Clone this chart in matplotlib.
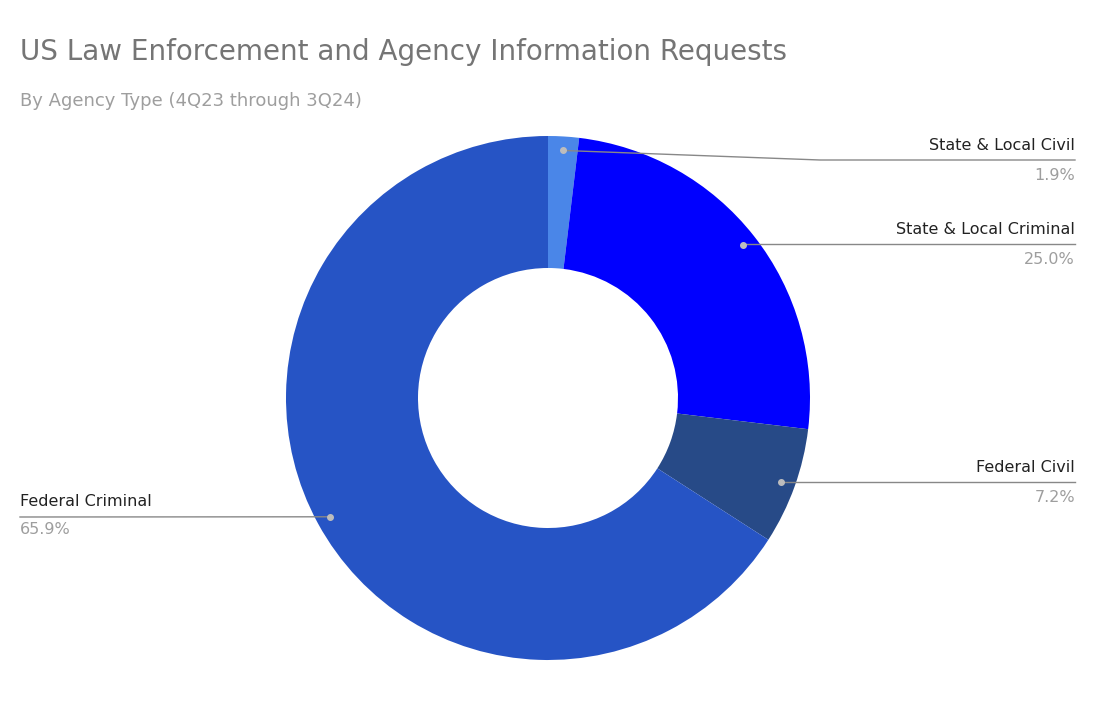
import numpy as np
import matplotlib.pyplot as plt

labels = ["State & Local Civil", "State & Local Criminal", "Federal Civil", "Federal Criminal"]
values = [1.9, 25.0, 7.2, 65.9]
colors = ["#4a86e8", "#0000ff", "#274a87", "#2654c5"]

W, H = 1110, 724
fig = plt.figure(figsize=(W / 100, H / 100), dpi=100)
ax = fig.add_axes([0, 0, 1, 1])

cx, cy, R = 548, H - 398, 262
ax.pie(values, colors=colors, startangle=90, counterclock=False, center=(cx, cy),
       radius=R, wedgeprops=dict(width=132, edgecolor="none"), frame=True)
ax.set_xlim(0, W)
ax.set_ylim(0, H)
ax.set_aspect("equal")
ax.axis("off")

fig.text(20 / W, 1 - 52 / H, "US Law Enforcement and Agency Information Requests",
         fontsize=20, color="#757575", va="center", ha="left")
fig.text(20 / W, 1 - 101 / H, "By Agency Type (4Q23 through 3Q24)",
         fontsize=13, color="#9e9e9e", va="center", ha="left")

# leader line y positions (pixels from top) and side
line_y = [160, 244, 482, 517]
right_side = [True, True, True, False]

cum = 0
for lab, v, ly, right in zip(labels, values, line_y, right_side):
    mid = cum + v / 2
    cum += v
    ang = np.deg2rad(90 - mid / 100 * 360)
    dx, dy = cx + 248 * np.cos(ang), cy + 248 * np.sin(ang)
    ly = H - ly
    ax.plot(dx, dy, "o", color="#bdbdbd", ms=4, zorder=5)
    if right:
        knee = 820 if abs(dy - ly) > 3 else dx
        ax.plot([dx, knee, 1075], [dy, ly, ly], color="#888888", lw=1)
        ax.text(1075, ly + 14, lab, ha="right", va="center", fontsize=11.5, color="#222222")
        ax.text(1075, ly - 15, f"{v:.1f}%", ha="right", va="center", fontsize=11.5, color="#9e9e9e")
    else:
        ax.plot([20, dx], [ly, dy], color="#888888", lw=1)
        ax.text(20, ly + 15, lab, ha="left", va="center", fontsize=11.5, color="#222222")
        ax.text(20, ly - 13, f"{v:.1f}%", ha="left", va="center", fontsize=11.5, color="#9e9e9e")

fig.savefig("out.png", dpi=100)
